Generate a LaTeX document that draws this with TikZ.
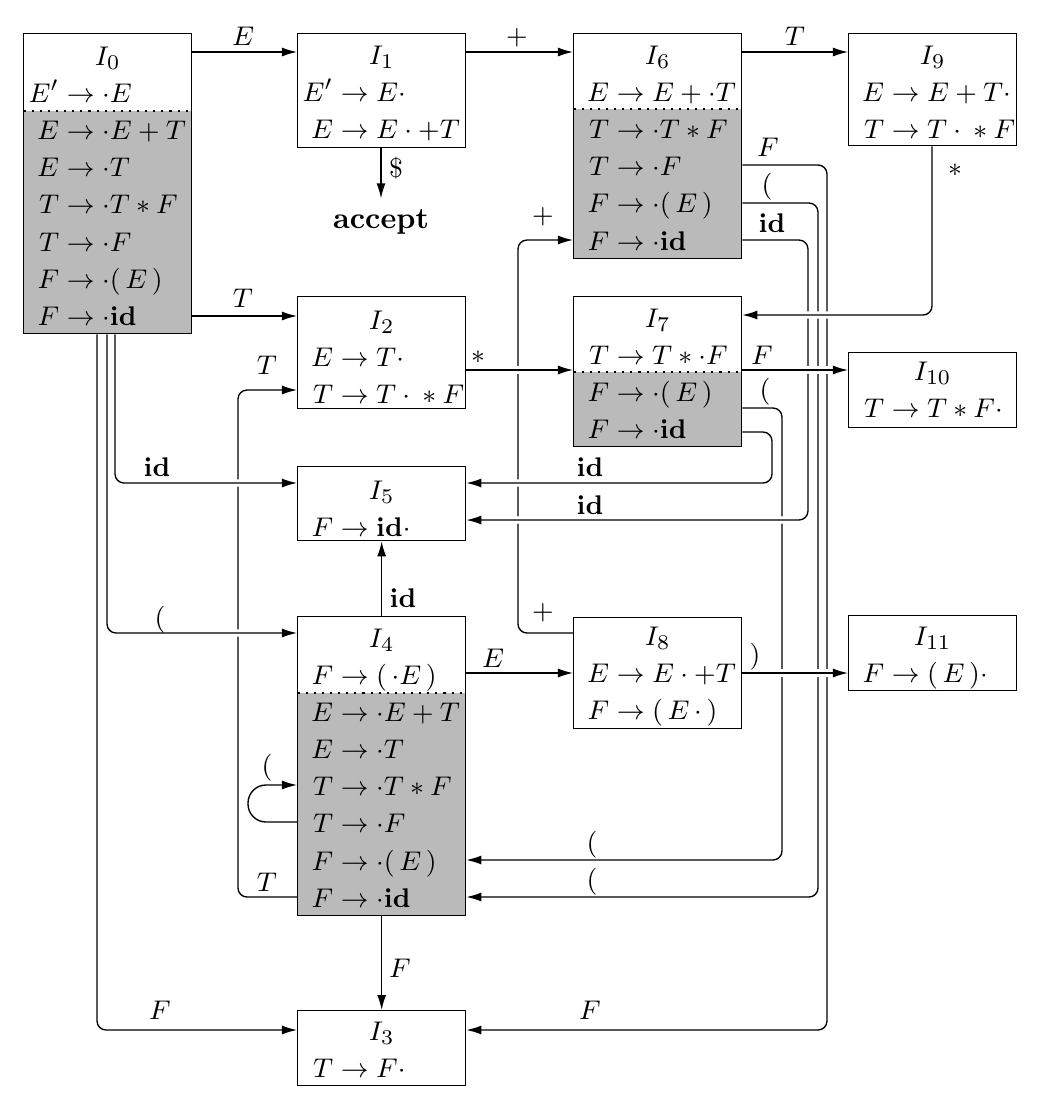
\documentclass[tikz,border=0pt]{standalone}
\usetikzlibrary{arrows.meta}
\pgfdeclarelayer{edges}
\pgfsetlayers{edges,main}
\newcommand\lhs[1]{\makebox[11.8pt][r]{$#1$}}
\newcommand\itm[2]{\makebox[56pt][l]{\lhs{#1}${}\to #2$}}
\newcommand\hd[1]{\makebox[56pt]{$I_{#1}$}}
\newcommand\boxtext[1]{\begin{tabular}[t]{@{}l@{}}#1\end{tabular}}
\renewcommand\arraystretch{1.065}
\tikzset{
 box/.style={draw, line width=0.45pt, anchor=north west, inner sep=0pt, minimum width=56pt},
 closure/.style={path picture={
   \fill[black!27] ([yshift=-#1]path picture bounding box.north west) rectangle (path picture bounding box.south east);
   \draw[dotted, line width=0.7pt] ([yshift=-#1]path picture bounding box.north west) -- ([yshift=-#1]path picture bounding box.north east);}},
 edge/.style={line width=0.45pt, rounded corners=3pt, -{Latex[length=5pt,width=3pt]}},
 over/.style={preaction={draw=white, line width=2.4pt, arrows=-}},
 lbl/.style={inner sep=0pt},
}
\begin{document}
\begin{tikzpicture}[x=0.33333pt, y=-0.33333pt, font=\fontsize{9.5}{11.6}\selectfont]
\useasboundingbox (0,0) rectangle (1043,1102);
% ---------- states ----------
\node[box, closure=25.667pt, text height=10.667pt, text depth=89.333pt] (I0) at (23,33)
 {\boxtext{\hd0\\ \itm{E'}{\cdot E}\\ \itm{E}{\cdot E+T}\\ \itm{E}{\cdot T}\\ \itm{T}{\cdot T*F}\\ \itm{T}{\cdot F}\\ \itm{F}{\cdot(\,E\,)}\\ \itm{F}{\cdot\mathbf{id}}}};
\node[box, text height=10.333pt, text depth=27.667pt] (I1) at (297,33)
 {\boxtext{\hd1\\ \itm{E'}{E\cdot}\\ \itm{E}{E\cdot+T}}};
\node[box, closure=25pt, text height=10.333pt, text depth=64.667pt] (I6) at (573,33)
 {\boxtext{\hd6\\ \itm{E}{E+\cdot T}\\ \itm{T}{\cdot T*F}\\ \itm{T}{\cdot F}\\ \itm{F}{\cdot(\,E\,)}\\ \itm{F}{\cdot\mathbf{id}}}};
\node[box, text height=10.333pt, text depth=27pt] (I9) at (848,33)
 {\boxtext{\hd9\\ \itm{E}{E+T\cdot}\\ \itm{T}{T\cdot{}*F}}};
\node[box, text height=11pt, text depth=26.333pt] (I2) at (297,296)
 {\boxtext{\hd2\\ \itm{E}{T\cdot}\\ \itm{T}{T\cdot{}*F}}};
\node[box, closure=25pt, text height=10.333pt, text depth=39.667pt] (I7) at (573,296)
 {\boxtext{\hd7\\ \itm{T}{T*\cdot F}\\ \itm{F}{\cdot(\,E\,)}\\ \itm{F}{\cdot\mathbf{id}}}};
\node[box, text height=9.333pt, text depth=15.667pt] (I10) at (848,352)
 {\boxtext{\hd{10}\\ \itm{T}{T*F\cdot}}};
\node[box, text height=11pt, text depth=13.667pt] (I5) at (297,466)
 {\boxtext{\hd5\\ \itm{F}{\mathbf{id}\cdot}}};
\node[box, closure=25.333pt, text height=10.333pt, text depth=89.333pt] (I4) at (297,616)
 {\boxtext{\hd4\\ \itm{F}{(\,\cdot E\,)}\\ \itm{E}{\cdot E+T}\\ \itm{E}{\cdot T}\\ \itm{T}{\cdot T*F}\\ \itm{T}{\cdot F}\\ \itm{F}{\cdot(\,E\,)}\\ \itm{F}{\cdot\mathbf{id}}}};
\node[box, text height=9.333pt, text depth=27.667pt] (I8) at (573,617)
 {\boxtext{\hd8\\ \itm{E}{E\cdot+T}\\ \itm{F}{(\,E\,\cdot\,)}}};
\node[box, text height=10pt, text depth=15pt] (I11) at (848,615)
 {\boxtext{\hd{11}\\ \itm{F}{(\,E\,)\cdot}}};
\node[box, text height=10pt, text depth=15pt] (I3) at (297,1010)
 {\boxtext{\hd3\\ \itm{T}{F\cdot}}};
\node[font=\bfseries, anchor=base] (acc) at (381,228) {accept};
% ---------- transitions ----------
\begin{pgfonlayer}{edges}
\draw[edge] (I8.west |- 0,633) -- (518,633) -- (518,240) -- (I6.west |- 0,240);
\draw[edge] (I4.west |- 0,897) -- (238,897) -- (238,390) -- (I2.west |- 0,390);
\draw[edge] (I7.east |- 0,408) -- (782,408) -- (782,860) -- (I4.east |- 0,860);
\draw[edge] (I6.east |- 0,203) -- (818,203) -- (818,897) -- (I4.east |- 0,897);
\draw[edge] (I6.east |- 0,165) -- (827,165) -- (827,1030) -- (I3.east |- 0,1030);
\draw[edge] (I0.south -| 97,0) -- (97,1030) -- (I3.west |- 0,1030);
\draw[edge, rounded corners=6pt] (I4.west |- 0,822) -- (248,822) -- (248,785) -- (I4.west |- 0,785);
\draw[edge, over] (I6.east |- 0,240) -- (808,240) -- (808,520) -- (I5.east |- 0,520);
\draw[edge, over] (I7.east |- 0,432) -- (772,432) -- (772,483) -- (I5.east |- 0,483);
\draw[edge, over] (I0.south -| 107,0) -- (107,633) -- (I4.west |- 0,633);
\draw[edge, over] (I0.south -| 115,0) -- (115,483) -- (I5.west |- 0,483);
\draw[edge, over] (I9.south -| 932,0) -- (932,315) -- (I7.east |- 0,315);
\draw[edge, over] (I2.east |- 0,370) -- (I7.west |- 0,370);
\draw[edge, over] (I7.east |- 0,370) -- (I10.west |- 0,370);
\draw[edge, over] (I8.east |- 0,673) -- (I11.west |- 0,673);
\draw[edge] (I0.east |- 0,52) -- (I1.west |- 0,52);
\draw[edge] (I1.east |- 0,52) -- (I6.west |- 0,52);
\draw[edge] (I6.east |- 0,52) -- (I9.west |- 0,52);
\draw[edge] (acc.north |- I1.south) -- (acc.north);
\draw[edge] (I0.east |- 0,316) -- (I2.west |- 0,316);
\draw[edge] (I4.east |- 0,673) -- (I8.west |- 0,673);
\draw[edge] (I5.south |- I4.north) -- (I5.south);
\draw[edge] (I3.north |- I4.south) -- (I3.north);
\end{pgfonlayer}
% ---------- labels ----------
\node[lbl] (l1) at (243,36) {$E$};
\node[lbl] (l2) at (517,38) {$+$};
\node[lbl] (l3) at (795,36) {$T$};
\node[lbl] (l4) at (396,168) {$\$$};
\node[lbl] (l5) at (243,298) {$T$};
\node[lbl] (l6) at (478,357) {$*$};
\node[lbl] (l7) at (762,355) {$F$};
\node[lbl] (l8) at (955,170) {$*$};
\node[lbl] (l9) at (543,217) {$+$};
\node[lbl] (l10) at (543,613) {$+$};
\node[lbl] (l11) at (493,658) {$E$};
\node[lbl] (l12) at (755,657) {$)$};
\node[lbl] (l13) at (403,598) {$\mathbf{id}$};
\node[lbl] (l14) at (400,968) {$F$};
\node[lbl] (l15) at (157,467) {$\mathbf{id}$};
\node[lbl] (l16) at (160,620) {$($};
\node[lbl] (l17) at (160,1010) {$F$};
\node[lbl] (l18) at (267,365) {$T$};
\node[lbl] (l19) at (267,882) {$T$};
\node[lbl] (l20) at (267,768) {$($};
\node[lbl] (l21) at (590,467) {$\mathbf{id}$};
\node[lbl] (l22) at (590,505) {$\mathbf{id}$};
\node[lbl] (l23) at (772,223) {$\mathbf{id}$};
\node[lbl] (l24) at (767,187) {$($};
\node[lbl] (l25) at (768,147) {$F$};
\node[lbl] (l26) at (765,392) {$($};
\node[lbl] (l27) at (592,845) {$($};
\node[lbl] (l28) at (592,882) {$($};
\node[lbl] (l29) at (590,1010) {$F$};
\end{tikzpicture}
\end{document}
